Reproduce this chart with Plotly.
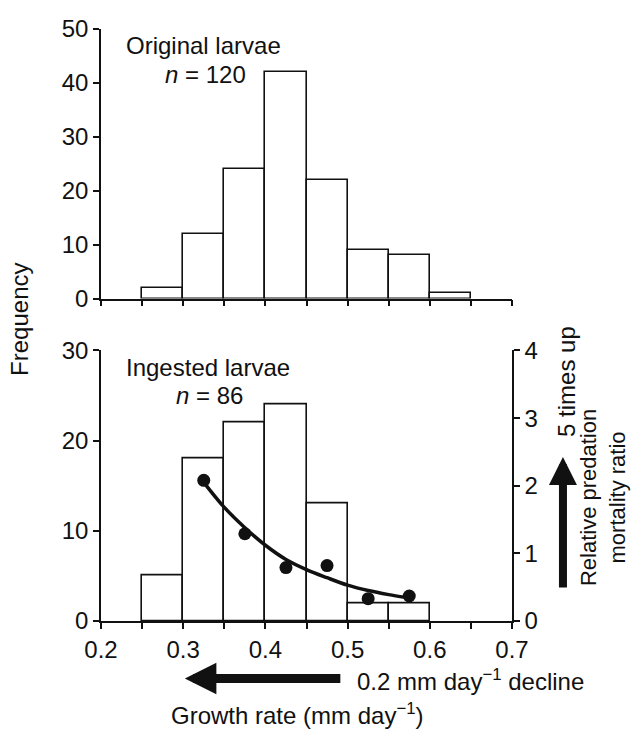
import plotly.graph_objects as go

# bin centres (growth rate, mm/day), bin width 0.05
orig_bins = [0.275, 0.325, 0.375, 0.425, 0.475, 0.525, 0.575, 0.625]
orig_freq = [2, 12, 24, 42, 22, 9, 8, 1]

ingest_bins = [0.275, 0.325, 0.375, 0.425, 0.475, 0.525, 0.575]
ingest_freq = [5, 18, 22, 24, 13, 2, 2]

# relative predation mortality ratio (right axis)
ratio_x = [0.325, 0.375, 0.425, 0.475, 0.525, 0.575]
ratio_y = [2.08, 1.29, 0.79, 0.82, 0.33, 0.37]

# fitted curve
fit_x = [0.325, 0.35, 0.375, 0.40, 0.425, 0.45, 0.475, 0.50, 0.525, 0.55, 0.57]
fit_y = [2.05, 1.68, 1.38, 1.12, 0.91, 0.76, 0.64, 0.53, 0.45, 0.39, 0.35]

x_ticks = [0.2, 0.25, 0.3, 0.35, 0.4, 0.45, 0.5, 0.55, 0.6, 0.65, 0.7]
x_labels = ["0.2", "", "0.3", "", "0.4", "", "0.5", "", "0.6", "", "0.7"]

FONT = "Liberation Sans, Arial, sans-serif"
BLK = "#111111"
FS = 24

bar_style = dict(marker=dict(color="white", line=dict(color=BLK, width=1.6)), width=0.05, showlegend=False)

fig = go.Figure()
fig.add_trace(go.Bar(x=orig_bins, y=orig_freq, xaxis="x", yaxis="y", **bar_style))
fig.add_trace(go.Bar(x=ingest_bins, y=ingest_freq, xaxis="x2", yaxis="y2", **bar_style))
fig.add_trace(go.Scatter(x=fit_x, y=fit_y, xaxis="x2", yaxis="y3", mode="lines",
                         line=dict(color=BLK, width=3.5, shape="spline"), showlegend=False))
fig.add_trace(go.Scatter(x=ratio_x, y=ratio_y, xaxis="x2", yaxis="y3", mode="markers",
                         marker=dict(color=BLK, size=13), showlegend=False))

ax_common = dict(showline=True, linecolor=BLK, linewidth=1.6, ticks="outside", ticklen=6,
                 tickwidth=1.6, tickcolor=BLK, showgrid=False, zeroline=False,
                 tickfont=dict(size=FS, color=BLK, family=FONT))

ann = []
def txt(x, y, s, xa="center", size=FS, **kw):
    d = dict(x=x, y=y, xref="paper", yref="paper", text=s, showarrow=False,
             xanchor=xa, yanchor="middle", font=dict(size=size, color=BLK, family=FONT))
    d.update(kw)
    ann.append(d)

txt(0.055, 0.972, "Original larvae", xa="left")
txt(0.255, 0.923, "<i>n</i> = 120")
txt(0.055, 0.428, "Ingested larvae", xa="left")
txt(0.264, 0.381, "<i>n</i> = 86")
txt(-0.2, 0.51, "Frequency", textangle=-90)
txt(1.134, 0.404, "5 times up", textangle=-90)
txt(1.222, 0.208, "Relative predation<br>mortality ratio", size=22, textangle=-90)
txt(0.618, -0.10, "0.2 mm day<sup>\u22121</sup> decline", xa="left")
txt(0.478, -0.157, "Growth rate (mm day<sup>\u22121</sup>)")

# thick arrows
ann.append(dict(x=1.124, y=0.277, xref="paper", yref="paper", ax=0, ay=132, axref="pixel", ayref="pixel",
                text="", showarrow=True, arrowhead=2, arrowsize=0.7, arrowwidth=8, arrowcolor=BLK, standoff=0))
ann.append(dict(x=0.204, y=-0.097, xref="paper", yref="paper", ax=157, ay=0, axref="pixel", ayref="pixel",
                text="", showarrow=True, arrowhead=2, arrowsize=0.7, arrowwidth=9, arrowcolor=BLK, standoff=0))

# page body has an 8 px margin, so the figure is shifted by 8 px
fig.update_layout(
    width=633, height=725,
    margin=dict(l=93, r=129, t=7, b=112),
    paper_bgcolor="white", plot_bgcolor="white",
    font=dict(family=FONT, color=BLK),
    bargap=0, barmode="overlay",
    xaxis=dict(domain=[0, 1], anchor="y", range=[0.2, 0.7], tickvals=x_ticks,
               showticklabels=False, **ax_common),
    yaxis=dict(domain=[0.5446, 1], anchor="x", range=[0, 50], tickvals=[0, 10, 20, 30, 40, 50], **ax_common),
    xaxis2=dict(domain=[0, 1], anchor="y2", range=[0.2, 0.7], tickvals=x_ticks, ticktext=x_labels, **ax_common),
    yaxis2=dict(domain=[0, 0.457], anchor="x2", range=[0, 30], tickvals=[0, 10, 20, 30], **ax_common),
    yaxis3=dict(overlaying="y2", side="right", anchor="x2", range=[0, 4], tickvals=[0, 1, 2, 3, 4], **ax_common),
    annotations=ann,
)

fig.write_html("out.html")
